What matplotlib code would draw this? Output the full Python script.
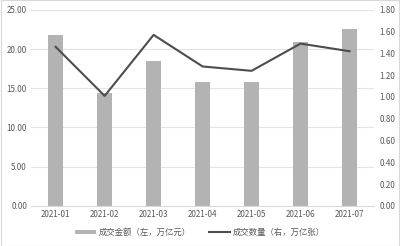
import matplotlib.pyplot as plt
import numpy as np

plt.rcParams['font.family'] = ['Noto Sans CJK SC', 'DejaVu Sans']

months = ["2021-01", "2021-02", "2021-03", "2021-04", "2021-05", "2021-06", "2021-07"]
amount = [21.8, 14.4, 18.5, 15.8, 15.8, 20.9, 22.5]   # 成交金额 (左, 万亿元)
count = [1.46, 1.01, 1.57, 1.28, 1.24, 1.49, 1.42]    # 成交数量 (右, 万亿张)

fig = plt.figure(figsize=(4, 2.46), dpi=100)
ax = fig.add_axes([0.078, 0.163, 0.857, 0.797])
x = np.arange(len(months))

bars = ax.bar(x, amount, width=0.31, color="#b3b3b3", zorder=2,
              label="成交金额（左，万亿元）")
ax.set_ylim(0, 25)
ax.set_yticks(np.arange(0, 26, 5))
ax.set_yticklabels([f"{v:.2f}" for v in np.arange(0, 26, 5)])
ax.set_xlim(-0.5, len(months) - 0.5)
ax.set_xticks(x)
ax.set_xticklabels(months)
ax.grid(axis="y", color="#e4e4e4", linewidth=0.8, zorder=0)
for s in ["top", "right", "left"]:
    ax.spines[s].set_visible(False)
ax.spines["bottom"].set_color("#d9d9d9")
ax.tick_params(length=0, labelsize=5.8, colors="#595959", pad=3)

ax2 = ax.twinx()
line, = ax2.plot(x, count, color="#4d4d4d", linewidth=1.5, zorder=3,
                 label="成交数量（右，万亿张）")
ax2.set_ylim(0, 1.8)
ax2.set_yticks(np.arange(0, 1.81, 0.2))
ax2.set_yticklabels([f"{v:.2f}" for v in np.arange(0, 1.81, 0.2)])
for s in ["top", "right", "left", "bottom"]:
    ax2.spines[s].set_visible(False)
ax2.tick_params(length=0, labelsize=5.8, colors="#595959", pad=4)

fig.legend([bars, line], [bars.get_label(), line.get_label()],
           loc="center", bbox_to_anchor=(0.5, 0.055), ncol=2, frameon=False,
           fontsize=6, labelcolor="#595959", handlelength=2.5, handleheight=0.5,
           columnspacing=2.2, handletextpad=0.3)

fig.patches.append(plt.Rectangle((0.002, 0.002), 0.996, 0.996, transform=fig.transFigure,
                                 fill=False, edgecolor="#d9d9d9", linewidth=0.8))

fig.savefig("out.png", dpi=100)
